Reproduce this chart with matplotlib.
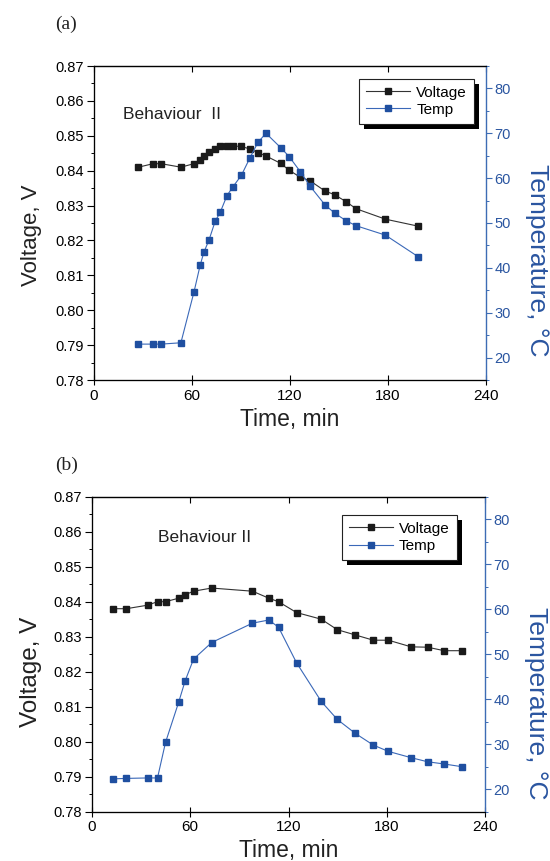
import matplotlib.pyplot as plt
from matplotlib.patches import Rectangle
from matplotlib.ticker import MultipleLocator

# Panel (a) - Behaviour II, first run
time_a = [27.2, 36.2, 41.1, 53.2, 61.2, 65.0, 67.3, 70.4, 74.2, 77.3, 81.4, 85.1, 90.2,
          95.3, 100.4, 105.3, 114.3, 119.5, 126.4, 132.3, 141.3, 147.3, 154.4, 160.4, 178.4, 198.4]
volt_a = [0.841, 0.842, 0.842, 0.841, 0.842, 0.8432, 0.8442, 0.8453, 0.8462, 0.847, 0.847, 0.847, 0.847,
          0.8462, 0.8452, 0.8442, 0.8421, 0.8401, 0.8381, 0.8371, 0.8342, 0.8331, 0.8311, 0.8291, 0.8261, 0.8241]
temp_a = [23.0, 23.0, 23.0, 23.3, 34.6, 40.6, 43.5, 46.2, 50.4, 52.4, 56.1, 58.1, 60.6,
          64.4, 68.0, 70.0, 66.8, 64.8, 61.4, 58.2, 54.1, 52.2, 50.5, 49.4, 47.3, 42.5]

# Panel (b) - Behaviour II, second run
time_b = [12.9, 21.0, 33.9, 40.0, 44.9, 52.9, 56.9, 62.0, 73.1, 98.0, 108.0,
          113.9, 124.9, 140.0, 149.8, 160.8, 171.8, 181.0, 194.9, 204.9, 215.1, 225.9]
volt_b = [0.838, 0.838, 0.839, 0.840, 0.840, 0.841, 0.842, 0.843, 0.8439, 0.843, 0.841,
          0.840, 0.8369, 0.835, 0.832, 0.8305, 0.829, 0.829, 0.8271, 0.827, 0.826, 0.826]
temp_b = [22.3, 22.4, 22.5, 22.5, 30.4, 39.3, 44.1, 48.9, 52.6, 56.9, 57.6,
          56.0, 48.1, 39.5, 35.5, 32.4, 29.8, 28.4, 27.0, 26.1, 25.6, 25.0]

x_ticks = [0, 60, 120, 180, 240]

BLACK = "#1a1a1a"
BLUE = "#1f4fa0"
BLUE_LINE = "#3a68b8"
AXIS_BLUE = "#3d6cb4"

plt.rcParams["font.family"] = ["Liberation Sans", "DejaVu Sans"]


def draw_panel(fig, rect, t, v, temp, note, note_xy, leg_anchor, ylab_xy, ylab_size,
               tlab_xy, xlab_y, letter, letter_xy):
    ax = fig.add_axes(rect)
    ax.plot(t, v, "-s", color="#333333", mfc=BLACK, mec=BLACK, ms=4.6, lw=0.8, label="Voltage")
    ax.set_xlim(0, 240)
    ax.set_ylim(0.78, 0.87)
    ax.set_xticks(x_ticks)
    ax.yaxis.set_major_locator(MultipleLocator(0.01))
    ax.yaxis.set_minor_locator(MultipleLocator(0.005))
    ax.yaxis.set_major_formatter(plt.FormatStrFormatter("%.2f"))
    ax.tick_params(axis="y", which="major", direction="out", length=5, width=0.8, labelsize=10.5, pad=2)
    ax.tick_params(axis="y", which="minor", direction="out", length=2.5, width=0.7)
    ax.tick_params(axis="x", which="major", direction="inout", length=6.5, width=0.8, labelsize=11, pad=3)
    top = ax.secondary_xaxis("top")
    top.set_xticks(x_ticks)
    top.tick_params(direction="in", length=4.5, width=0.8, labeltop=False)

    ax2 = ax.twinx()
    ax2.plot(t, temp, "-s", color=BLUE_LINE, mfc=BLUE, mec=BLUE, ms=4.6, lw=0.8, label="Temp")
    ax2.set_ylim(15, 85)
    ax2.yaxis.set_minor_locator(MultipleLocator(5))
    ax2.set_yticks([20, 30, 40, 50, 60, 70, 80])
    ax2.tick_params(axis="y", which="major", direction="out", length=4, width=0.8,
                    colors=AXIS_BLUE, labelcolor="#2a55a0", labelsize=10.5, pad=2)
    ax2.tick_params(axis="y", which="minor", direction="out", length=2.5, width=0.7, colors=AXIS_BLUE)
    ax2.spines["right"].set_color(AXIS_BLUE)
    ax2.spines["right"].set_linewidth(1.0)
    ax.spines["right"].set_visible(False)
    for s in ["left", "bottom", "top"]:
        ax.spines[s].set_linewidth(0.9)
        ax.spines[s].set_color("#222222")

    ax.set_xlabel("Time, min", fontsize=16.5, color="#222222")
    ax.xaxis.set_label_coords(0.5, xlab_y)
    ax.set_ylabel("Voltage, V", fontsize=ylab_size, color="#222222")
    ax.yaxis.set_label_coords(*ylab_xy)
    ax2.set_ylabel("Temperature, °C", fontsize=19, color="#2a55a0", rotation=270, va="bottom")
    ax2.yaxis.set_label_coords(*tlab_xy)

    ax.text(note_xy[0], note_xy[1], note, transform=ax.transAxes, fontsize=12.5,
            color="#222222", va="center", ha="left")

    h1, l1 = ax.get_legend_handles_labels()
    h2, l2 = ax2.get_legend_handles_labels()
    leg = ax2.legend(h1 + h2, l1 + l2, loc="upper right", bbox_to_anchor=leg_anchor,
                     borderaxespad=0, fancybox=False, fontsize=11, handlelength=2.9,
                     handletextpad=0.4, labelspacing=0.2, borderpad=0.45)
    leg.get_frame().set_edgecolor("#222222")
    leg.get_frame().set_linewidth(0.8)
    leg.get_frame().set_alpha(1)
    leg.set_zorder(6)
    fig.canvas.draw()
    bb = leg.get_window_extent().transformed(fig.transFigure.inverted())
    dx, dy = 5 / fig.bbox.width, 5 / fig.bbox.height
    shadow = Rectangle((bb.x0 + dx, bb.y0 - dy), bb.width, bb.height,
                       transform=fig.transFigure, facecolor="black", edgecolor="none",
                       zorder=5, clip_on=False)
    ax2.add_artist(shadow)

    fig.text(letter_xy[0], letter_xy[1], letter, fontsize=14, family="Liberation Serif",
             ha="left", va="center", color="#222222")
    return ax, ax2


fig = plt.figure(figsize=(5.5, 8.61), dpi=100)

draw_panel(fig, [94 / 550, 1 - 380 / 861, 392 / 550, 314 / 861],
           time_a, volt_a, temp_a, "Behaviour  II", (0.074, 0.844), (0.969, 0.959),
           (-0.133, 0.462), 16, (1.1, 0.382), -0.09, "(a)", (55 / 550, 1 - 24 / 861))
draw_panel(fig, [92 / 550, 1 - 811.7 / 861, 393 / 550, 315 / 861],
           time_b, volt_b, temp_b, "Behaviour II", (0.168, 0.869), (0.928, 0.942),
           (-0.127, 0.444), 17.5, (1.1, 0.345), -0.088, "(b)", (55 / 550, 1 - 465 / 861))

fig.savefig("out.png", dpi=100, facecolor="white")
